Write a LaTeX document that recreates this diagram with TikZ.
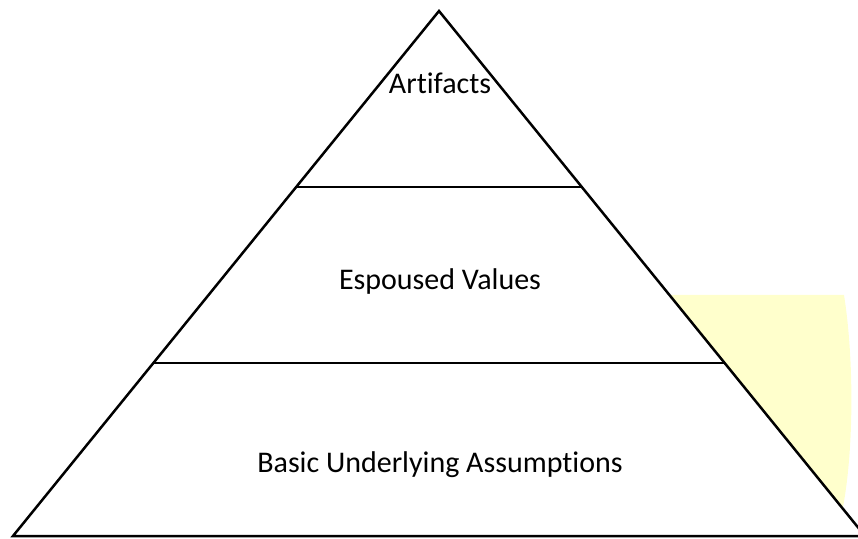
\documentclass[tikz,border=0pt]{standalone}
\usepackage{fontspec}
\setmainfont{Carlito}[Ligatures=NoCommon]
\usetikzlibrary{calc}
\definecolor{paleyellow}{RGB}{255,255,204}

\begin{document}
\begin{tikzpicture}[x=1pt,y=1pt,
    layer/.style={font=\fontsize{30}{36}\selectfont},
    edge/.style={line width=2.5pt}]
    \useasboundingbox (0,0) rectangle (858,538);

    % highlight behind the right side
    \fill[paleyellow] (640,243) -- (844,243) .. controls (854,180) and (854,90) .. (843,31) -- (760,31) -- cycle;

    \coordinate (apex) at (439,527);
    \coordinate (bl) at (13,2);
    \coordinate (br) at (865,2);
    \filldraw[edge, fill=white, line join=miter] (bl) -- (apex) -- (br) -- cycle;

    \coordinate (l1) at ($(bl)!0.665!(apex)$);
    \coordinate (r1) at ($(br)!0.665!(apex)$);
    \coordinate (l2) at ($(bl)!0.3295!(apex)$);
    \coordinate (r2) at ($(br)!0.3295!(apex)$);
    \draw[edge] (l1) -- (r1);
    \draw[edge] (l2) -- (r2);

    \node[layer] (artifacts) at (440,455) {Artifacts};
    \node[layer] (values) at (440,256) {Espoused Values};
    \node[layer] (assumptions) at (440,73) {Basic Underlying Assumptions};
\end{tikzpicture}
\end{document}
